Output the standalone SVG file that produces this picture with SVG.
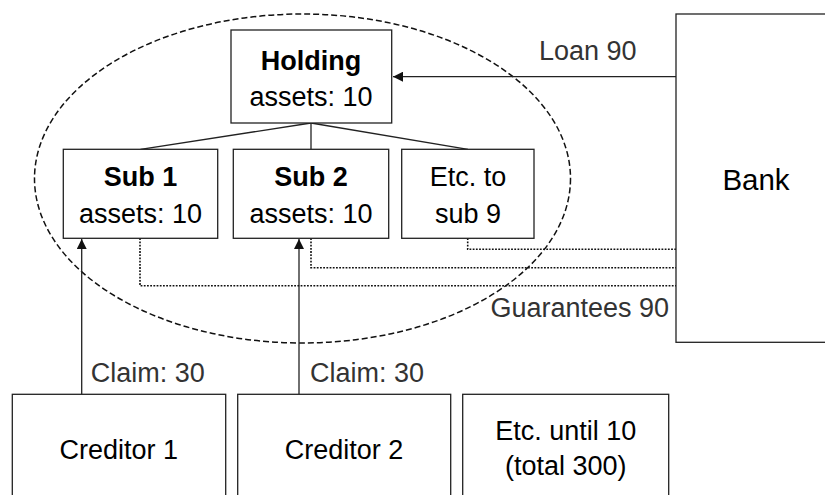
<svg xmlns="http://www.w3.org/2000/svg" width="825" height="495" viewBox="0 0 825 495">
<style>
.box{fill:#fff;stroke:#222;stroke-width:1.3}
.t{font-family:"Liberation Sans",Arial,sans-serif;font-size:27px;fill:#000;text-anchor:middle}
.b{font-weight:bold}
.lbl{font-family:"Liberation Sans",Arial,sans-serif;font-size:27px;fill:#333}
.solid{fill:none;stroke:#222;stroke-width:1.3}
.dot{fill:none;stroke:#111;stroke-width:1.6;stroke-dasharray:1.8 1.4}
</style>
<defs>
<marker id="ah" viewBox="0 0 10 10" refX="10" refY="5" markerWidth="11" markerHeight="10" markerUnits="userSpaceOnUse" orient="auto">
<path d="M0,0 L10,5 L0,10 z" fill="#111"/>
</marker>
</defs>
<ellipse id="group" cx="302.5" cy="178.5" rx="268" ry="164.5" fill="none" stroke="#111" stroke-width="1.5" stroke-dasharray="6 3"/>
<g id="connectors">
<line class="solid" x1="311" y1="123" x2="140.5" y2="149.3"/>
<line class="solid" x1="311" y1="123" x2="311" y2="149.3"/>
<line class="solid" x1="311" y1="123" x2="468" y2="149.3"/>
<line class="solid" x1="676" y1="76.7" x2="393" y2="76.7" marker-end="url(#ah)"/>
<line class="solid" x1="81.7" y1="394" x2="81.7" y2="239" marker-end="url(#ah)"/>
<line class="solid" x1="299" y1="394" x2="299" y2="239" marker-end="url(#ah)"/>
<polyline class="dot" points="140,238.3 140,285.7 676,285.7"/>
<polyline class="dot" points="311,238.3 311,267.7 676,267.7"/>
<polyline class="dot" points="467.7,238.3 467.7,249.3 676,249.3"/>
<text class="lbl" x="539" y="60">Loan 90</text>
<text class="lbl" x="669" y="316.7" text-anchor="end">Guarantees 90</text>
<text class="lbl" x="90.7" y="381.7">Claim: 30</text>
<text class="lbl" x="310" y="381.7">Claim: 30</text>
</g>
<g id="holding">
<rect class="box" x="231" y="30" width="160.7" height="93"/>
<text class="t b" x="311" y="70">Holding</text>
<text class="t" x="311" y="106">assets: 10</text>
</g>
<g id="sub1">
<rect class="box" x="63.3" y="149.3" width="154.4" height="89"/>
<text class="t b" x="140.5" y="185.7">Sub 1</text>
<text class="t" x="140.5" y="222.7">assets: 10</text>
</g>
<g id="sub2">
<rect class="box" x="233.3" y="149.3" width="155.4" height="89"/>
<text class="t b" x="311" y="185.7">Sub 2</text>
<text class="t" x="311" y="222.7">assets: 10</text>
</g>
<g id="sub9">
<rect class="box" x="401.7" y="149.3" width="132.3" height="89"/>
<text class="t" x="468" y="185.5">Etc. to</text>
<text class="t" x="468" y="222.5">sub 9</text>
</g>
<g id="bank">
<rect class="box" x="676" y="14" width="160" height="328.3"/>
<text class="t" x="756" y="190" style="font-size:29.5px">Bank</text>
</g>
<g id="creditor1">
<rect class="box" x="12.3" y="394.3" width="213.4" height="120"/>
<text class="t" x="118.7" y="459">Creditor 1</text>
</g>
<g id="creditor2">
<rect class="box" x="237.7" y="394.3" width="213" height="120"/>
<text class="t" x="344" y="459">Creditor 2</text>
</g>
<g id="creditors-etc">
<rect class="box" x="462.7" y="394.3" width="206" height="120"/>
<text class="t" x="565.7" y="440">Etc. until 10</text>
<text class="t" x="565.7" y="474.5">(total 300)</text>
</g>
</svg>
